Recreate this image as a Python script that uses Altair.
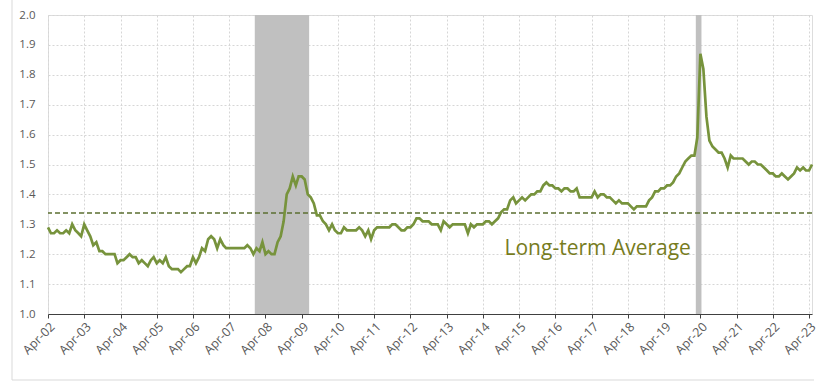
import altair as alt
import pandas as pd

# Monthly ratio, April of each year through the following March
y2002 = [1.29, 1.27, 1.27, 1.28, 1.27, 1.27, 1.28, 1.27, 1.30, 1.28, 1.27, 1.26]
y2003 = [1.30, 1.28, 1.26, 1.23, 1.24, 1.21, 1.21, 1.20, 1.20, 1.20, 1.20, 1.17]
y2004 = [1.18, 1.18, 1.19, 1.20, 1.19, 1.19, 1.17, 1.18, 1.17, 1.16, 1.18, 1.19]
y2005 = [1.17, 1.18, 1.17, 1.19, 1.16, 1.15, 1.15, 1.15, 1.14, 1.15, 1.16, 1.16]
y2006 = [1.19, 1.17, 1.19, 1.22, 1.21, 1.25, 1.26, 1.25, 1.22, 1.25, 1.23, 1.22]
y2007 = [1.22, 1.22, 1.22, 1.22, 1.22, 1.22, 1.23, 1.22, 1.20, 1.22, 1.21, 1.24]
y2008 = [1.20, 1.21, 1.20, 1.20, 1.24, 1.26, 1.31, 1.40, 1.42, 1.46, 1.43, 1.46]
y2009 = [1.46, 1.45, 1.40, 1.39, 1.37, 1.33, 1.33, 1.31, 1.30, 1.28, 1.30, 1.28]
y2010 = [1.27, 1.27, 1.29, 1.28, 1.28, 1.28, 1.28, 1.29, 1.28, 1.26, 1.28, 1.25]
y2011 = [1.28, 1.29, 1.29, 1.29, 1.29, 1.29, 1.30, 1.30, 1.29, 1.28, 1.28, 1.29]
y2012 = [1.29, 1.30, 1.32, 1.32, 1.31, 1.31, 1.31, 1.30, 1.30, 1.30, 1.28, 1.31]
y2013 = [1.30, 1.29, 1.30, 1.30, 1.30, 1.30, 1.30, 1.27, 1.30, 1.29, 1.30, 1.30]
y2014 = [1.30, 1.31, 1.31, 1.30, 1.31, 1.32, 1.34, 1.35, 1.35, 1.38, 1.39, 1.37]
y2015 = [1.38, 1.39, 1.38, 1.39, 1.40, 1.40, 1.41, 1.41, 1.43, 1.44, 1.43, 1.43]
y2016 = [1.42, 1.42, 1.41, 1.42, 1.42, 1.41, 1.41, 1.42, 1.39, 1.39, 1.39, 1.39]
y2017 = [1.39, 1.41, 1.39, 1.40, 1.40, 1.39, 1.39, 1.38, 1.37, 1.38, 1.37, 1.37]
y2018 = [1.37, 1.36, 1.35, 1.36, 1.36, 1.36, 1.36, 1.38, 1.39, 1.41, 1.41, 1.42]
y2019 = [1.42, 1.43, 1.43, 1.44, 1.46, 1.47, 1.49, 1.51, 1.52, 1.53, 1.53, 1.59]
y2020 = [1.87, 1.82, 1.66, 1.58, 1.56, 1.55, 1.54, 1.54, 1.52, 1.49, 1.53, 1.52]
y2021 = [1.52, 1.52, 1.52, 1.51, 1.50, 1.51, 1.51, 1.50, 1.50, 1.49, 1.48, 1.47]
y2022 = [1.47, 1.46, 1.46, 1.47, 1.46, 1.45, 1.46, 1.47, 1.49, 1.48, 1.49, 1.48]
y2023 = [1.48, 1.50]

long_term_average = 1.338

# Recession periods shaded in grey
recession_start = ["2007-12-15", "2020-02-15"]
recession_end = ["2009-06-15", "2020-04-12"]

label_text = "Long-term Average"

# tick positions: every April, and every 0.1 on the ratio axis
x_tick_years = list(range(2002, 2024))
y_ticks = [1.0, 1.1, 1.2, 1.3, 1.4, 1.5, 1.6, 1.7, 1.8, 1.9, 2.0]

values = (y2002 + y2003 + y2004 + y2005 + y2006 + y2007 + y2008 + y2009 + y2010
          + y2011 + y2012 + y2013 + y2014 + y2015 + y2016 + y2017 + y2018
          + y2019 + y2020 + y2021 + y2022 + y2023)
dates = pd.date_range("2002-04-01", periods=len(values), freq="MS").strftime("%Y-%m-%d")
series = pd.DataFrame({"date": dates, "value": values})
recessions = pd.DataFrame({"start": recession_start, "end": recession_end})

W, H = 764, 299
FONT = "Open Sans"

x_scale = alt.Scale(
    type="utc",
    domain=[alt.DateTime(year=2002, month=4, date=1, utc=True),
            alt.DateTime(year=2023, month=5, date=1, utc=True)],
)
y_scale = alt.Scale(domain=[1.0, 2.0], nice=False, zero=False)

x_axis = alt.Axis(
    values=[alt.DateTime(year=y, month=4, date=1, utc=True) for y in x_tick_years],
    format="%b-%y", labelAngle=-45, labelAlign="right", labelBaseline="top",
    labelPadding=2, tickSize=4, tickColor="#404040", domainColor="#404040",
    labelColor="#595959", labelFont=FONT, labelFontSize=12.5, labelOverlap=False,
    grid=True, gridColor="#d6d6d6", gridDash=[2, 2], title=None,
)
y_axis = alt.Axis(
    values=y_ticks, format=".1f",
    domain=False, ticks=False, labelPadding=13, labelColor="#595959",
    labelFont=FONT, labelFontSize=11.5, labelOverlap=False,
    grid=True, gridColor="#d6d6d6", gridDash=[2, 2], title=None,
)

shade = alt.Chart(recessions).mark_rect(color="#c0c0c0", opacity=1).encode(
    x=alt.X("start:T", scale=x_scale, axis=x_axis),
    x2="end:T",
    y=alt.Y(datum=2.0, scale=y_scale, axis=y_axis),
    y2=alt.Y2(datum=1.0),
)

avg = alt.Chart().mark_rule(color="#5b6f30", strokeWidth=1.5, strokeDash=[5, 3]).encode(
    y=alt.Y(datum=long_term_average, scale=y_scale, axis=y_axis)
)

line = alt.Chart(series).mark_line(color="#77933c", strokeWidth=2.7).encode(
    x=alt.X("date:T", scale=x_scale, axis=x_axis),
    y=alt.Y("value:Q", scale=y_scale, axis=y_axis),
)

label = alt.Chart().mark_text(
    text=label_text, font=FONT, fontSize=21, color="#777c1e",
    align="left", baseline="alphabetic",
).encode(
    x=alt.X(datum=alt.DateTime(year=2014, month=11, date=5, utc=True), scale=x_scale, axis=x_axis),
    y=alt.Y(datum=1.198, scale=y_scale, axis=y_axis),
)

# light frame on the left and bottom edges of the figure
frame_left = alt.Chart().mark_rule(color="#d9d9d9", strokeWidth=1).encode(
    x=alt.value(-36), y=alt.value(-15), y2=alt.value(365)
)
frame_bottom = alt.Chart().mark_rule(color="#d9d9d9", strokeWidth=1).encode(
    x=alt.value(-36), x2=alt.value(766), y=alt.value(365)
)

chart = alt.layer(shade, avg, line, label, frame_left, frame_bottom).properties(
    width=W, height=H,
    autosize=alt.AutoSizeParams(type="none"),
    padding={"left": 48, "top": 15, "right": 827 - 48 - W, "bottom": 381 - 15 - H},
).configure_view(stroke=None).configure(background="white")

chart.save("out.html", embed_options={"renderer": "svg", "actions": False})
